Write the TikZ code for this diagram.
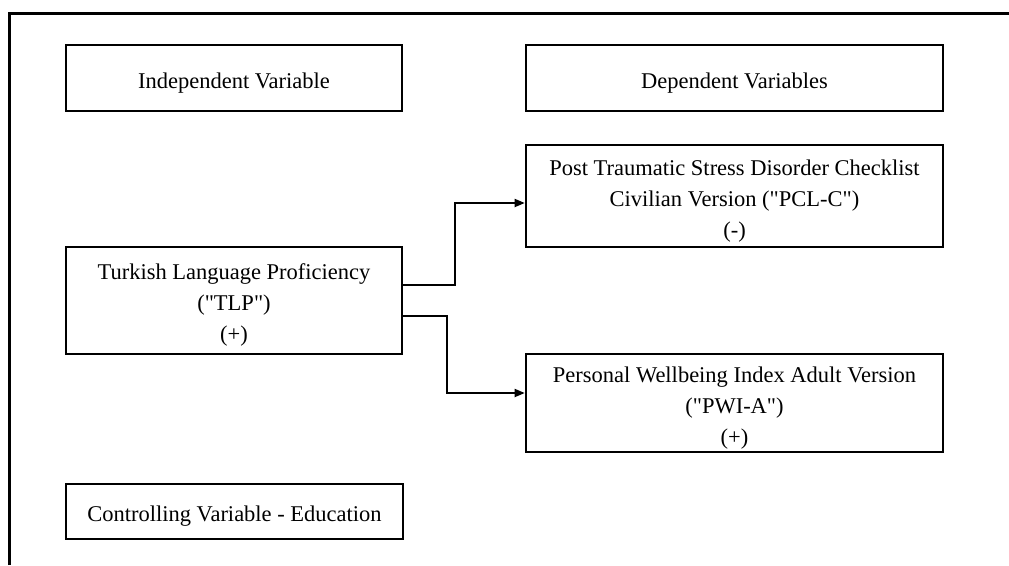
\documentclass[tikz,border=0pt]{standalone}
\usepackage{fontspec}
\setmainfont{Liberation Serif}
\usetikzlibrary{arrows.meta}
\newcommand{\topstrut}{\rule{0pt}{25pt}}

\begin{document}
\begin{tikzpicture}[x=1pt, y=-1pt,
		varbox/.style={draw, line width=2.6pt, rectangle, align=center, inner sep=0pt,
			font=\fontsize{22.5}{31}\selectfont},
		link/.style={line width=1.8pt, -{Triangle[length=10pt,width=8pt]}}]
		\useasboundingbox (0,0) rectangle (1009,565);
		\draw[line width=3pt] (9,565) -- (9,13) -- (1009,13);

		\node (indep)[varbox, minimum width=336pt, minimum height=66pt] at (234,78)  {\topstrut Independent Variable};
		\node (dep)[varbox, minimum width=417pt, minimum height=66pt] at (734.5,78)  {\topstrut Dependent Variables};

		\node (tlp)[varbox, minimum width=336pt, minimum height=107pt] at (234,300.5)  {\topstrut Turkish Language Proficiency\\(\textquotedbl TLP\textquotedbl)\\(+)};
		\node (pcl)[varbox, minimum width=417pt, minimum height=102pt] at (734.5,196)  {\topstrut Post Traumatic Stress Disorder Checklist\\Civilian Version (\textquotedbl PCL-C\textquotedbl)\\(-)};
		\node (pwi)[varbox, minimum width=417pt, minimum height=98pt] at (734.5,403)  {\topstrut Personal Wellbeing Index Adult Version\\(\textquotedbl PWI-A\textquotedbl)\\(+)};

		\node (ctrl)[varbox, minimum width=337pt, minimum height=55pt] at (234.5,511.5)  {\topstrut Controlling Variable - Education};

		\draw[link] ([yshift=15.5pt]tlp.east) -- ++(52,0) |- ([yshift=-7pt]pcl.west);
		\draw[link] ([yshift=-15.5pt]tlp.east) -- ++(44,0) |- ([yshift=10pt]pwi.west);
	\end{tikzpicture}
\end{document}
